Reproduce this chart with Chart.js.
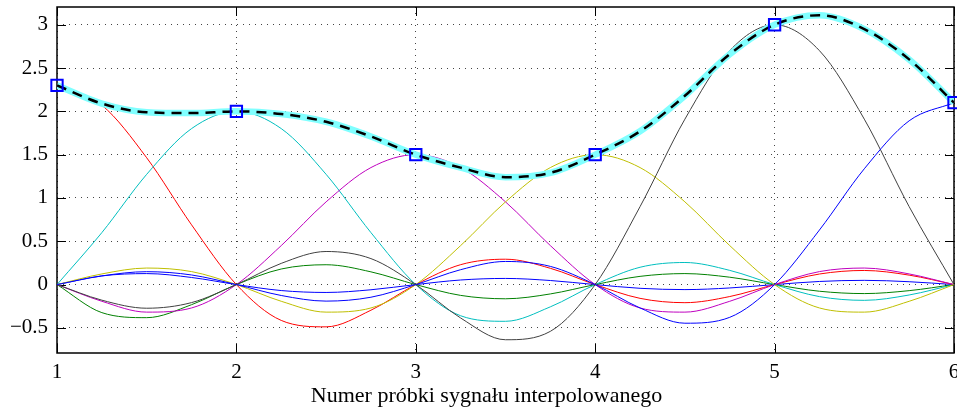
<!DOCTYPE html>
<html><head><meta charset="utf-8">
<script src="https://cdn.jsdelivr.net/npm/chart.js@4.4.1/dist/chart.umd.min.js"></script>
<style>html,body{margin:0;padding:0;background:#fff;overflow:hidden}canvas{display:block}</style>
</head><body>
<canvas id="c" width="957" height="413"></canvas>
<script>
// sample positions along the horizontal axis
const xGrid = [1, 1.25, 1.5, 1.75, 2, 2.25, 2.5, 2.75, 3, 3.25, 3.5, 3.75, 4, 4.25, 4.5, 4.75, 5, 5.25, 5.5, 5.75, 6];
// signal samples (squares)
const sampleX = [1, 2, 3, 4, 5, 6];
const sampleY = [2.3, 2, 1.5, 1.5, 3, 2.1];
// individual component curves
const compBlueA = [0, 0.100, 0.127, 0.082, 0, -0.069, -0.091, -0.060, 0, 0.053, 0.071, 0.047, 0, -0.043, -0.058, -0.039, 0, 0.036, 0.049, 0.033, 0];
const compGreen = [0, -0.324, -0.382, -0.232, 0, 0.180, 0.229, 0.147, 0, -0.125, -0.164, -0.108, 0, 0.095, 0.127, 0.085, 0, -0.077, -0.104, -0.070, 0];
const compRed = [2.3, 2.071, 1.464, 0.690, 0, -0.414, -0.488, -0.296, 0, 0.230, 0.293, 0.188, 0, -0.159, -0.209, -0.138, 0, 0.122, 0.163, 0.109, 0];
const compCyan = [0, 0.600, 1.273, 1.801, 2, 1.801, 1.273, 0.600, 0, -0.360, -0.424, -0.257, 0, 0.200, 0.255, 0.164, 0, -0.139, -0.182, -0.120, 0];
const compMagenta = [0, -0.193, -0.318, -0.270, 0, 0.450, 0.955, 1.351, 1.5, 1.351, 0.955, 0.450, 0, -0.270, -0.318, -0.193, 0, 0.150, 0.191, 0.123, 0];
const compYellow = [0, 0.123, 0.191, 0.150, 0, -0.193, -0.318, -0.270, 0, 0.450, 0.955, 1.351, 1.5, 1.351, 0.955, 0.450, 0, -0.270, -0.318, -0.193, 0];
const compGray = [0, -0.180, -0.273, -0.208, 0, 0.245, 0.382, 0.300, 0, -0.386, -0.637, -0.540, 0, 0.900, 1.910, 2.701, 3, 2.701, 1.910, 0.900, 0];
const compBlueB = [0, 0.100, 0.149, 0.111, 0, -0.126, -0.191, -0.146, 0, 0.172, 0.267, 0.210, 0, -0.270, -0.446, -0.378, 0, 0.630, 1.337, 1.891, 2.1];
// interpolated signal (sum)
const interpSignal = [2.30, 2.09, 1.99, 1.98, 2.00, 1.97, 1.88, 1.71, 1.50, 1.35, 1.24, 1.29, 1.50, 1.77, 2.18, 2.66, 3.00, 3.11, 2.95, 2.60, 2.10];
// tick labels
const xTicks = [1, 2, 3, 4, 5, 6];
const yTicks = [-0.5, 0, 0.5, 1, 1.5, 2, 2.5, 3];
const xTitle = 'Numer próbki sygnału interpolowanego';

const pts = ys => xGrid.map((x, i) => ({x: x, y: ys[i]}));
const FAMILY = '"Liberation Serif", "Times New Roman", serif';
const FONT = {family: FAMILY, size: 21};

const comps = [
  [compBlueA, '#0000ff'], [compGreen, '#008000'], [compRed, '#ff0000'], [compCyan, '#00bfbf'],
  [compMagenta, '#bf00bf'], [compYellow, '#bfbf00'], [compGray, '#404040'], [compBlueB, '#0000ff']
];
const datasets = comps.map(([d, c], i) => ({
  data: pts(d), borderColor: c, borderWidth: 1, pointRadius: 0,
  cubicInterpolationMode: 'monotone', order: 3 + (comps.length - i) * 0.01
}));
datasets.push({data: pts(interpSignal), borderColor: '#80ffff', borderWidth: 6.5, pointRadius: 0, cubicInterpolationMode: 'monotone', order: 2});
datasets.push({data: pts(interpSignal), borderColor: '#000000', borderWidth: 2.5, borderDash: [10, 7], pointRadius: 0, cubicInterpolationMode: 'monotone', order: 1});
datasets.push({
  data: sampleX.map((x, i) => ({x: x, y: sampleY[i]})), showLine: false,
  pointStyle: 'rect', pointRadius: 8, pointHoverRadius: 8, pointBorderColor: '#0000ff', pointBorderWidth: 2,
  pointBackgroundColor: 'rgba(0,0,0,0)', clip: false, order: 0
});

const frame = {
  id: 'frame',
  beforeDatasetsDraw(chart) {
    const {ctx, chartArea: a, scales: {x, y}} = chart;
    ctx.save();
    ctx.strokeStyle = '#000';
    ctx.lineWidth = 1;
    ctx.beginPath();
    x.ticks.forEach(t => {
      const px = Math.round(x.getPixelForValue(t.value)) + 0.5;
      ctx.moveTo(px, a.bottom); ctx.lineTo(px, a.bottom - 9);
      ctx.moveTo(px, a.top); ctx.lineTo(px, a.top + 9);
    });
    y.ticks.forEach(t => {
      const py = Math.round(y.getPixelForValue(t.value)) + 0.5;
      ctx.moveTo(a.left, py); ctx.lineTo(a.left + 9, py);
      ctx.moveTo(a.right, py); ctx.lineTo(a.right - 9, py);
    });
    ctx.stroke();
    ctx.lineWidth = 1.5;
    ctx.strokeRect(a.left, a.top, a.right - a.left, a.bottom - a.top);
    ctx.restore();
  },
  afterDraw(chart) {
    const {ctx, chartArea: a} = chart;
    ctx.save();
    ctx.fillStyle = '#000';
    ctx.font = '22px ' + FAMILY;
    ctx.textAlign = 'center';
    ctx.textBaseline = 'alphabetic';
    ctx.fillText(xTitle, (a.left + a.right) / 2 - 19, 402);
    ctx.restore();
  }
};

new Chart(document.getElementById('c'), {
  type: 'line',
  data: {datasets: datasets},
  plugins: [frame],
  options: {
    responsive: false, animation: false, devicePixelRatio: 1,
    layout: {autoPadding: false, padding: {top: 7, right: 3, left: 0, bottom: 0}},
    plugins: {legend: {display: false}, tooltip: {enabled: false}},
    scales: {
      x: {
        type: 'linear', min: 1, max: 6,
        afterBuildTicks: s => { s.ticks = xTicks.map(v => ({value: v})); },
        afterFit: s => { s.height = 60; s.paddingLeft = 0; s.paddingRight = 0; },
        ticks: {font: FONT, color: '#000', padding: 7, maxRotation: 0, autoSkip: false, callback: v => String(v)},
        grid: {drawTicks: false, color: '#444', lineWidth: 1},
        border: {display: false, dash: [1, 5]}
      },
      y: {
        min: -0.79, max: 3.205,
        afterBuildTicks: s => { s.ticks = yTicks.map(v => ({value: v})); },
        afterFit: s => { s.width = 57; s.paddingTop = 0; s.paddingBottom = 0; },
        ticks: {font: FONT, color: '#000', padding: 9, autoSkip: false, callback: v => (v < 0 ? '\u2212' + Math.abs(v) : String(v))},
        grid: {drawTicks: false, color: '#444', lineWidth: 1},
        border: {display: false, dash: [1, 5]}
      }
    }
  }
});
</script>
</body></html>
